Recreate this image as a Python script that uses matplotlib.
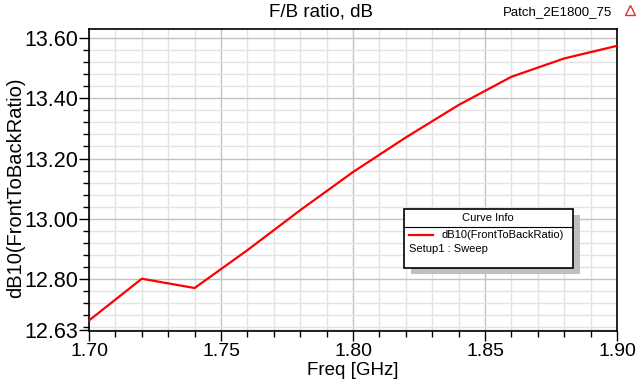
import matplotlib
matplotlib.use("Agg")
import matplotlib.pyplot as plt
from matplotlib.ticker import MultipleLocator, FixedLocator
from matplotlib.patches import Rectangle
from matplotlib.lines import Line2D

freq = [1.70, 1.72, 1.74, 1.76, 1.78, 1.80, 1.82, 1.84, 1.86, 1.88, 1.90]
fb_db = [12.661, 12.800, 12.769, 12.895, 13.028, 13.155, 13.270, 13.378, 13.472, 13.533, 13.575]
ytick_vals = [12.63, 12.80, 13.00, 13.20, 13.40, 13.60]
ytick_labels = ["12.63", "12.80", "13.00", "13.20", "13.40", "13.60"]
xtick_vals = [1.70, 1.75, 1.80, 1.85, 1.90]
xtick_labels = ["1.70", "1.75", "1.80", "1.85", "1.90"]

plt.rcParams['font.family'] = ['Liberation Sans', 'DejaVu Sans']

W, H = 642, 381
fig = plt.figure(figsize=(6.42, 3.81), dpi=100)
ax = fig.add_axes([89/W, 50/H, (617-89)/W, (331-29.3)/H])

ax.plot(freq, fb_db, color=(1, 0, 0), lw=1.6, zorder=3)

ax.set_xlim(1.70, 1.90)
ax.set_ylim(12.626, 13.63)
ax.xaxis.set_major_locator(FixedLocator(xtick_vals))
ax.set_xticklabels(xtick_labels, fontsize=14)
ax.xaxis.set_minor_locator(MultipleLocator(0.01))
ax.yaxis.set_major_locator(FixedLocator(ytick_vals))
ax.set_yticklabels(ytick_labels, fontsize=15.5)
ax.yaxis.set_minor_locator(FixedLocator([12.64 + 0.04 * i for i in range(25)]))

ax.grid(which='minor', color=(0.89, 0.89, 0.89), lw=1.0, zorder=0)
ax.grid(which='major', color=(0.76, 0.76, 0.76), lw=1.0, zorder=1)
ax.set_axisbelow(True)

ax.tick_params(which='major', direction='out', length=7, width=1, color='black')
ax.tick_params(axis='y', which='major', pad=0.5)
ax.tick_params(axis='x', which='major', pad=2)
ax.tick_params(which='minor', direction='out', length=4, width=1, color='black')
ax.tick_params(top=False, right=False)
for s in ax.spines.values():
    s.set_color('black')
    s.set_linewidth(1.2)

ax.set_xlabel("Freq [GHz]", fontsize=13.5, labelpad=1)
ax.set_ylabel("dB10(FrontToBackRatio)", fontsize=14.5, va='center')
ax.yaxis.set_label_coords(16/W, 1 - 188/H, transform=fig.transFigure)

fig.text(321/W, 1 - 12/H, "F/B ratio, dB", fontsize=13.5, ha='center', va='center')
fig.text(558/W, 1 - 12/H, "Patch_2E1800_75", fontsize=9.5, ha='center', va='center')
# small logo
fig.lines.append(Line2D([630/W], [1 - 10/H], marker='^', markersize=7,
                        markerfacecolor='none', markeredgecolor=(0.85, 0.2, 0.2),
                        markeredgewidth=1, transform=fig.transFigure))

# Legend box (Curve Info)
def fx(x): return x / W
def fy(y): return 1 - y / H
shadow = Rectangle((fx(411), fy(274)), (573 - 404) / W, (268 - 209) / H,
                   transform=fig.transFigure, facecolor=(0.75, 0.75, 0.75),
                   edgecolor='none', zorder=5)
box = Rectangle((fx(404), fy(268.3)), (572.7 - 404) / W, (268.3 - 209) / H,
                transform=fig.transFigure, facecolor='white',
                edgecolor='black', lw=1.2, zorder=6)
fig.patches.extend([shadow, box])
fig.lines.append(Line2D([fx(404), fx(572.7)], [fy(226.7), fy(226.7)], color='black',
                        lw=0.8, transform=fig.transFigure, zorder=7))
fig.text(fx(488), fy(218), "Curve Info", fontsize=8, ha='center', va='center', zorder=8)
fig.lines.append(Line2D([fx(409), fx(433)], [fy(235), fy(235)], color=(1, 0, 0),
                        lw=1.6, transform=fig.transFigure, zorder=8))
fig.text(fx(441), fy(235.5), "dB10(FrontToBackRatio)", fontsize=8, ha='left', va='center', zorder=8)
fig.text(fx(409), fy(248.5), "Setup1 : Sweep", fontsize=8, ha='left', va='center', zorder=8)

fig.savefig("out.png", dpi=100, facecolor='white')
